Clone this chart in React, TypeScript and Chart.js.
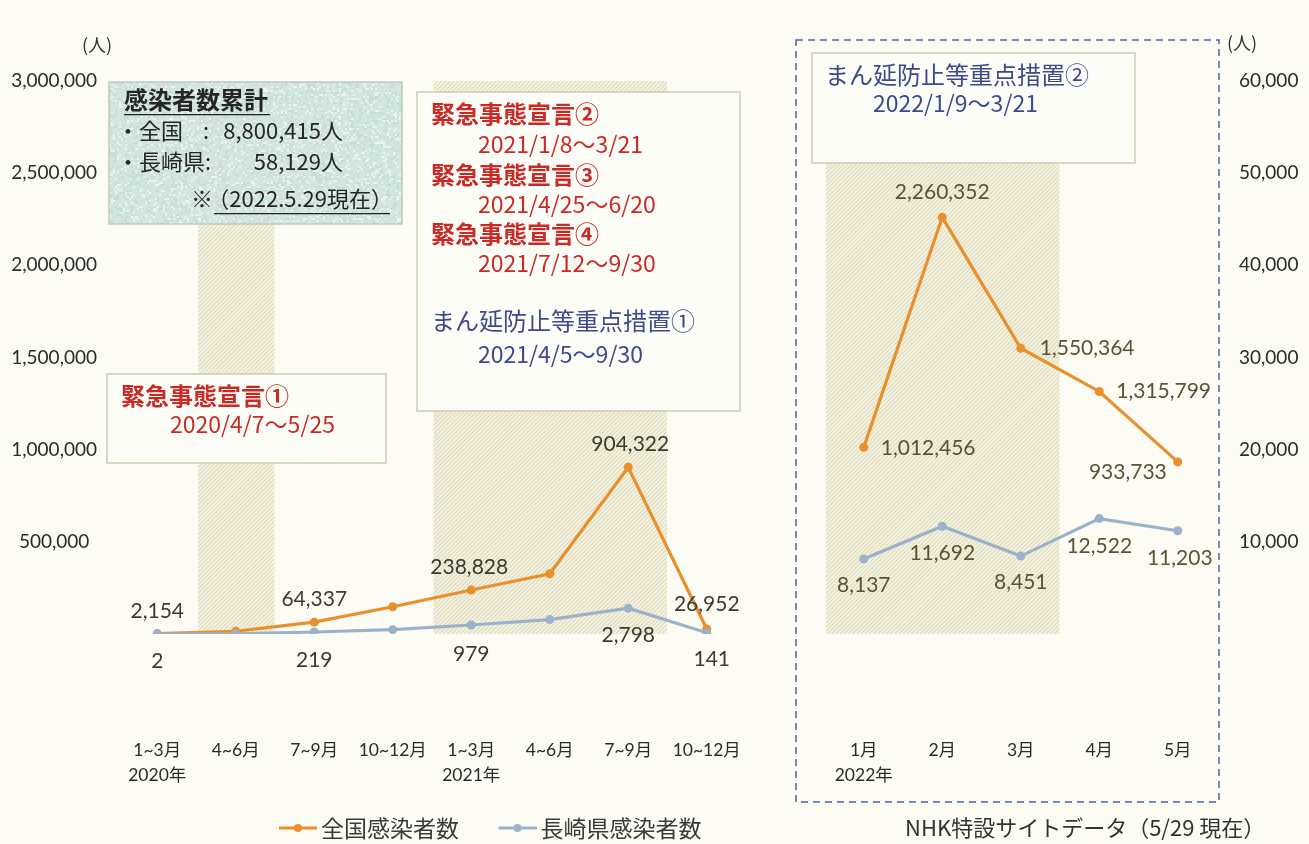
import React, { useEffect, useRef } from 'react';
import { Chart, registerables } from 'chart.js';

Chart.register(...registerables);

// ---------------- data ----------------
const categories: (string | string[])[] = [
  ['1~3月', '2020年'], '4~6月', '7~9月', '10~12月',
  ['1~3月', '2021年'], '4~6月', '7~9月', '10~12月',
  '',
  ['1月', '2022年'], '2月', '3月', '4月', '5月',
];
const nationalCases: (number | null)[] = [2154, 15000, 64337, 148000, 238828, 327000, 904322, 26952, null, 1012456, 2260352, 1550364, 1315799, 933733];
const nagasakiCases: (number | null)[] = [2, 17, 219, 470, 979, 1560, 2798, 141, null, 8137, 11692, 8451, 12522, 11203];
const nationalLabeled = [0, 2, 4, 6, 7, 9, 10, 11, 12, 13];
const nagasakiLabeled = [0, 2, 4, 6, 7, 9, 10, 11, 12, 13];
const leftAxisMax = 3000000;
const leftAxisStep = 500000;
const rightAxisMax = 60000;
const rightAxisStep = 10000;
// shaded periods as [first category, last category]
const shadedPeriods: [number, number][] = [[1, 1], [4, 6], [9, 11]];
const seriesNames = ['全国感染者数', '長崎県感染者数'];

// ---------------- styles ----------------
const LATIN = "Lato, 'Noto Sans CJK JP', sans-serif";
const CJK = "'Noto Sans CJK JP', sans-serif";
const ORANGE = '#e98f2c';
const BLUE = '#9cb2cb';
const RED = '#c92a26';
const NAVY = '#3d4a8c';
const BOX_BORDER = '#cdccb4';
const BOX_FILL = '#fdfdf8';

// label offsets [dx, dy, align]
const nationalPlacement: Record<number, [number, number, CanvasTextAlign]> = {
  0: [0, -22, 'center'], 2: [0, -23, 'center'], 4: [-2, -23, 'center'], 6: [2, -23, 'center'],
  7: [0, -25, 'center'], 9: [17, 1, 'left'], 10: [0, -25, 'center'], 11: [19, 0, 'left'],
  12: [17, 0, 'left'], 13: [-11, 10, 'right'],
};
const nagasakiPlacement: Record<number, [number, number, CanvasTextAlign]> = {
  0: [0, 27, 'center'], 2: [0, 28, 'center'], 4: [0, 29, 'center'], 6: [0, 27, 'center'],
  7: [5, 27, 'center'], 9: [0, 26, 'center'], 10: [0, 27, 'center'], 11: [0, 26, 'center'],
  12: [0, 28, 'center'], 13: [2, 27, 'center'],
};

function makeLegendIcon(color: string) {
  const c = document.createElement('canvas');
  c.width = 75;
  c.height = 12;
  const g = c.getContext('2d')!;
  g.strokeStyle = color;
  g.lineWidth = 3;
  g.beginPath();
  g.moveTo(37, 6);
  g.lineTo(75, 6);
  g.stroke();
  g.fillStyle = color;
  g.beginPath();
  g.arc(56, 6, 4, 0, Math.PI * 2);
  g.fill();
  return c;
}

function txt(ctx: CanvasRenderingContext2D, s: string, x: number, y: number, font: string, color: string, align: CanvasTextAlign = 'left') {
  ctx.font = font;
  ctx.fillStyle = color;
  ctx.textAlign = align;
  ctx.textBaseline = 'middle';
  ctx.fillText(s, x, y);
}

function box(ctx: CanvasRenderingContext2D, x: number, y: number, w: number, h: number, fill: string) {
  ctx.fillStyle = fill;
  ctx.fillRect(x, y, w, h);
  ctx.strokeStyle = BOX_BORDER;
  ctx.lineWidth = 1.5;
  ctx.strokeRect(x, y, w, h);
}

const decorPlugin = {
  id: 'decor',
  beforeDraw(chart: any) {
    const ctx: CanvasRenderingContext2D = chart.ctx;
    ctx.save();
    ctx.fillStyle = '#fcfcf4';
    ctx.fillRect(0, 0, chart.width, chart.height);
    ctx.restore();
  },
  afterLayout(chart: any) {
    const lg: any = chart.legend;
    if (!lg || !lg.lineWidths) return;
    const p = 10;
    const rowStart = (lg.left + p + lg.right - lg.lineWidths[0]) / 2;
    const dx = 249.5 - rowStart;
    const dy = 828 - (lg.top + p + 23 / 2);
    lg.left += dx; lg.right += dx; lg.top += dy; lg.bottom += dy;
  },
  beforeDatasetsDraw(chart: any) {
    const ctx: CanvasRenderingContext2D = chart.ctx;
    const xs = chart.scales.x;
    const ys = chart.scales.y;
    const area = chart.chartArea;
    const slot = (xs.right - xs.left) / categories.length;
    const y0 = ys.getPixelForValue(0);
    ctx.save();
    // shaded periods
    for (const [a, b] of shadedPeriods) {
      const x1 = xs.getPixelForValue(a) - slot / 2 + 1.5;
      const x2 = xs.getPixelForValue(b) + slot / 2 - 0.5;
      const top = area.top;
      ctx.save();
      ctx.beginPath();
      ctx.rect(x1, top, x2 - x1, y0 - top);
      ctx.clip();
      ctx.fillStyle = '#f5f3e1';
      ctx.fillRect(x1, top, x2 - x1, y0 - top);
      ctx.strokeStyle = '#e0dcbf';
      ctx.lineWidth = 1.2;
      ctx.beginPath();
      for (let k = -(y0 - top); k < x2 - x1 + 10; k += 4.2) {
        ctx.moveTo(x1 + k, y0);
        ctx.lineTo(x1 + k + (y0 - top), top);
      }
      ctx.stroke();
      ctx.restore();
    }

    // teal summary box
    ctx.fillStyle = '#d2e5de';
    ctx.fillRect(109, 82, 293, 142);
    for (let i = 0; i < 293; i += 2) {
      for (let j = 0; j < 142; j += 2) {
        const h = Math.abs(Math.sin(i * 12.9898 + j * 78.233) * 43758.5453) % 1;
        if (h > 0.62) {
          ctx.fillStyle = h > 0.84 ? 'rgba(255,255,255,0.5)' : 'rgba(175,205,195,0.3)';
          ctx.fillRect(109 + i, 82 + j, 2, 2);
        }
      }
    }
    ctx.strokeStyle = '#bccbc2';
    ctx.lineWidth = 1.5;
    ctx.strokeRect(109, 82, 293, 142);
    txt(ctx, '感染者数累計', 124, 100, `bold 24px ${CJK}`, '#262626');
    ctx.fillStyle = '#262626';
    ctx.fillRect(124, 114, 146, 1.3);
    txt(ctx, '・全国', 117, 131, `22px ${CJK}`, '#262626');
    txt(ctx, ':', 203, 131, `22px ${CJK}`, '#262626');
    txt(ctx, '8,800,415人', 343, 131, `22px ${CJK}`, '#262626', 'right');
    txt(ctx, '・長崎県:', 117, 162, `22px ${CJK}`, '#262626');
    txt(ctx, '58,129人', 343, 162, `22px ${CJK}`, '#262626', 'right');
    txt(ctx, '※', 191, 199, `22px ${CJK}`, '#262626');
    txt(ctx, '（2022.5.29現在）', 393, 199, `22px ${CJK}`, '#262626', 'right');
    ctx.fillRect(214, 213, 176, 1.3);

    // emergency declaration box (2021)
    box(ctx, 417, 92, 323, 319, BOX_FILL);
    txt(ctx, '緊急事態宣言②', 431, 114, `bold 24px ${CJK}`, RED);
    txt(ctx, '2021/1/8〜3/21', 478, 144, `23px ${CJK}`, RED);
    txt(ctx, '緊急事態宣言③', 431, 175, `bold 24px ${CJK}`, RED);
    txt(ctx, '2021/4/25〜6/20', 478, 204, `23px ${CJK}`, RED);
    txt(ctx, '緊急事態宣言④', 431, 234, `bold 24px ${CJK}`, RED);
    txt(ctx, '2021/7/12〜9/30', 478, 263, `23px ${CJK}`, RED);
    txt(ctx, 'まん延防止等重点措置①', 431, 321, `24px ${CJK}`, NAVY);
    txt(ctx, '2021/4/5〜9/30', 478, 354, `23px ${CJK}`, NAVY);

    // emergency declaration box (2020)
    box(ctx, 107, 374, 279, 89, BOX_FILL);
    txt(ctx, '緊急事態宣言①', 121, 396, `bold 24px ${CJK}`, RED);
    txt(ctx, '2020/4/7〜5/25', 170, 424, `23px ${CJK}`, RED);

    // priority measures box (2022)
    box(ctx, 812, 53, 323, 110, BOX_FILL);
    txt(ctx, 'まん延防止等重点措置②', 825, 75, `24px ${CJK}`, NAVY);
    txt(ctx, '2022/1/9〜3/21', 873, 103, `23px ${CJK}`, NAVY);

    // dashed frame around 2022
    ctx.strokeStyle = '#5262a2';
    ctx.lineWidth = 1.5;
    ctx.setLineDash([7, 5]);
    ctx.strokeRect(796, 40, 423, 762);
    ctx.setLineDash([]);

    // units and source
    txt(ctx, '(人)', 97, 45, `18px ${CJK}`, '#333', 'center');
    txt(ctx, '(人)', 1242, 43, `18px ${CJK}`, '#333', 'center');
    txt(ctx, 'NHK特設サイトデータ（5/29 現在）', 905, 828, `22px ${CJK}`, '#333');
    ctx.restore();
  },
  afterDatasetsDraw(chart: any) {
    const ctx: CanvasRenderingContext2D = chart.ctx;
    ctx.save();
    const sets: [number, (number | null)[], number[], Record<number, [number, number, CanvasTextAlign]>][] = [
      [0, nationalCases, nationalLabeled, nationalPlacement],
      [1, nagasakiCases, nagasakiLabeled, nagasakiPlacement],
    ];
    for (const [di, values, idxs, place] of sets) {
      const meta = chart.getDatasetMeta(di);
      for (const i of idxs) {
        const pt = meta.data[i];
        const v = values[i];
        if (!pt || v == null) continue;
        const [dx, dy, align] = place[i];
        const color = i < 8 ? '#3b3a33' : '#5b5334';
        txt(ctx, v.toLocaleString('en-US'), pt.x + dx, pt.y + dy, `21px ${LATIN}`, color, align);
      }
    }
    ctx.restore();
  },
};

export default function App() {
  const ref = useRef<HTMLCanvasElement>(null);
  useEffect(() => {
    document.body.style.margin = '0';
    if (!ref.current) return;
    const icons = [makeLegendIcon(ORANGE), makeLegendIcon(BLUE)];
    const chart = new Chart(ref.current, {
      type: 'line',
      data: {
        labels: categories as any,
        datasets: [
          {
            label: seriesNames[0],
            data: nationalCases,
            yAxisID: 'y',
            borderColor: ORANGE,
            backgroundColor: ORANGE,
            borderWidth: 3.2,
            pointRadius: 4.5,
            pointBorderWidth: 0,
            pointBackgroundColor: ORANGE,
            spanGaps: false,
            order: 1,
          },
          {
            label: seriesNames[1],
            data: nagasakiCases,
            yAxisID: 'y1',
            borderColor: BLUE,
            backgroundColor: BLUE,
            borderWidth: 3.2,
            pointRadius: 4.5,
            pointBorderWidth: 0,
            pointBackgroundColor: BLUE,
            spanGaps: false,
            order: 0,
          },
        ],
      },
      options: {
        animation: false,
        responsive: true,
        maintainAspectRatio: false,
        layout: { padding: { top: 81, left: 0, right: 0, bottom: 0 } },
        plugins: {
          tooltip: { enabled: false },
          legend: {
            position: 'bottom',
            labels: {
              usePointStyle: true,
              pointStyleWidth: 60,
              padding: 10,
              color: '#3a3a3a',
              font: { family: CJK, size: 23 },
              generateLabels: (c: any) => {
                const items = (Chart.defaults.plugins.legend.labels as any).generateLabels(c);
                items.sort((a: any, b: any) => a.datasetIndex - b.datasetIndex);
                items.forEach((it: any) => { it.pointStyle = icons[it.datasetIndex]; });
                return items;
              },
            },
          },
        },
        scales: {
          x: {
            type: 'category',
            offset: true,
            grid: { display: false, drawTicks: false },
            border: { display: false },
            ticks: {
              autoSkip: false,
              maxRotation: 0,
              minRotation: 0,
              padding: 103.5,
              color: '#2b2b2b',
              font: { family: LATIN, size: 17.5, lineHeight: 25 / 17.5 },
            },
            afterFit: (s: any) => { s.height = 167; },
          },
          y: {
            position: 'left',
            min: 0,
            max: leftAxisMax,
            grid: { display: false, drawTicks: false },
            border: { display: false },
            ticks: {
              stepSize: leftAxisStep,
              crossAlign: 'center',
              padding: 21,
              color: '#2b2b2b',
              font: { family: LATIN, size: 19 },
              callback: (v: any) => (Number(v) === 0 ? '' : Number(v).toLocaleString('en-US')),
            },
            afterFit: (s: any) => { s.width = 118; },
          },
          y1: {
            position: 'right',
            min: 0,
            max: rightAxisMax,
            grid: { display: false, drawTicks: false },
            border: { display: false },
            ticks: {
              stepSize: rightAxisStep,
              padding: 22,
              color: '#2b2b2b',
              font: { family: LATIN, size: 19 },
              callback: (v: any) => (Number(v) === 0 ? '' : Number(v).toLocaleString('en-US')),
            },
            afterFit: (s: any) => { s.width = 92; },
          },
        },
      } as any,
      plugins: [decorPlugin as any],
    });
    return () => chart.destroy();
  }, []);
  return (
    <div style={{ width: 1309, height: 844, position: 'relative' }}>
      <canvas ref={ref} />
    </div>
  );
}
